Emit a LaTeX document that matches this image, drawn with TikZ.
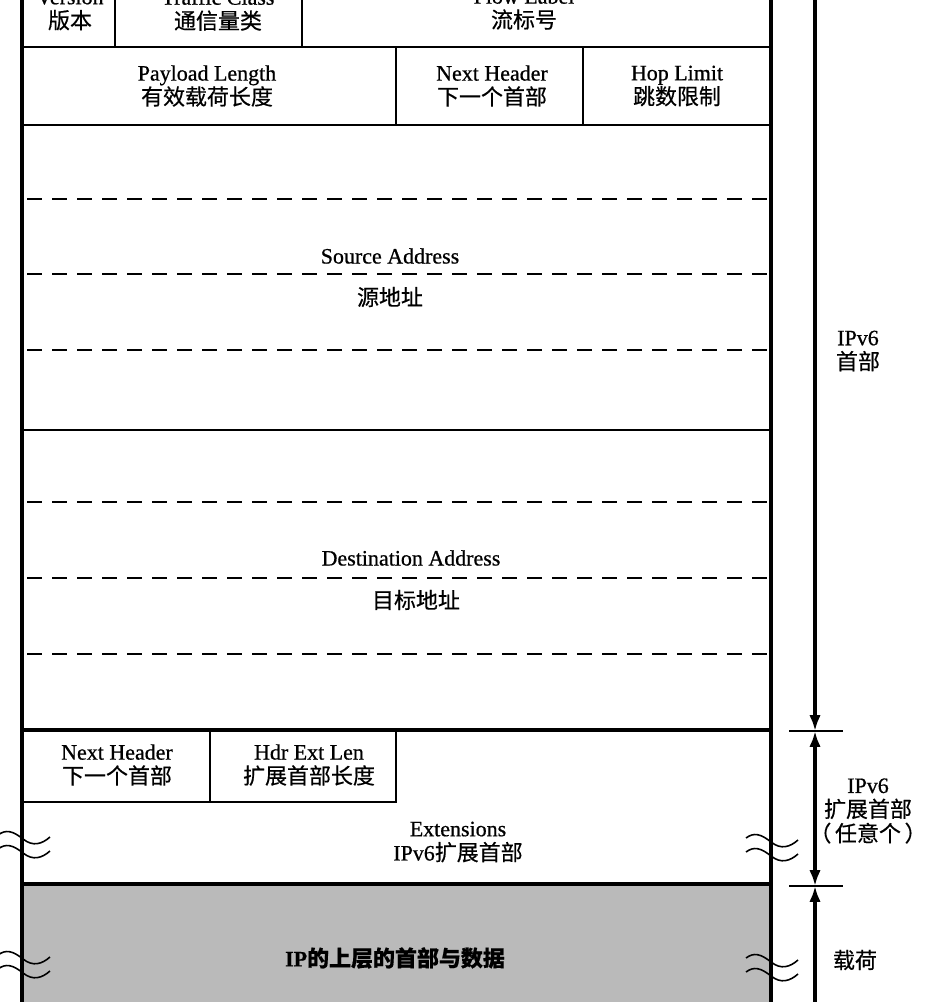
\documentclass[tikz,border=0pt]{standalone}
\usepackage{fontspec}
\setmainfont{Liberation Serif}[FakeBold=0.7]
\newfontfamily\cjk{Noto Sans CJK SC}[FakeBold=0.5]
\usetikzlibrary{arrows.meta}

\newcommand\fs{\fontsize{12.5}{13.8}\selectfont}

\begin{document}
\begin{tikzpicture}[
    x=0.2mm, y=-0.2mm,
    >={Latex[length=9pt,width=6.5pt]},
    every node/.style={font=\fs, align=center, inner sep=1pt},
    frame/.style={line width=2.2pt},
    sep/.style={line width=1.1pt},
    thicksep/.style={line width=2.2pt},
    dashsep/.style={line width=1pt, dash pattern=on 3mm off 2mm},
    tick/.style={line width=1pt},
    dim/.style={line width=2pt},
    brk/.pic={\draw[line width=0.9pt] (0,0) .. controls (8,-6) and (15,-4) .. (25,4)
        .. controls (35,12) and (44,9) .. (52,2);}
]
\useasboundingbox (0,0) rectangle (929,1002);
\clip (0,0) rectangle (929,1002);

% Nutzlast (grau)
\fill[black!27] (22,884) rectangle (771,1040);

% Rahmen
\draw[frame] (22,-40) -- (22,1040);
\draw[frame] (771,-40) -- (771,1040);

% Zeile 1
\draw[sep] (22,-31) -- (771,-31);
\draw[sep] (115,-31) -- (115,47);
\draw[sep] (302,-31) -- (302,47);
\draw[sep] (22,47) -- (771,47);

% Zeile 2
\draw[sep] (396,47) -- (396,125);
\draw[sep] (583,47) -- (583,125);
\draw[sep] (22,125) -- (771,125);

% Adressen
\foreach \y in {199,274,350,502,578,654}
    \draw[dashsep] (27,\y) -- (768,\y);
\draw[sep] (22,430) -- (771,430);
\draw[thicksep] (22,730) -- (771,730);

% Erweiterungskopf
\draw[sep] (210,730) -- (210,802);
\draw[sep] (22,802) -- (396,802) -- (396,730);
\draw[thicksep] (22,884) -- (771,884);

% Felder
\node (ver) at (70,10) {Version\\{\cjk 版本}};
\node (tc) at (218,10) {Traffic Class\\{\cjk 通信量类}};
\node (fl) at (524,9) {Flow Label\\{\cjk 流标号}};
\node (plen) at (207,86) {Payload Length\\{\cjk 有效载荷长度}};
\node (nh) at (492,86) {Next Header\\{\cjk 下一个首部}};
\node (hl) at (677,86) {Hop Limit\\{\cjk 跳数限制}};
\node (src) at (390,256) {Source Address};
\node (srccn) at (390,297) {\cjk 源地址};
\node (dst) at (411,558) {Destination Address};
\node (dstcn) at (416,600) {\cjk 目标地址};
\node (enh) at (117,765) {Next Header\\{\cjk 下一个首部}};
\node (hel) at (309,765) {Hdr Ext Len\\{\cjk 扩展首部长度}};
\node (ext) at (458,842) {Extensions\\IPv6{\cjk 扩展首部}};
\node (pay) at (395,958) {\bfseries IP{\cjk 的上层的首部与数据}};

% Bruchmarken
\foreach \y in {835,849,955,969}
    \pic at (-2,\y) {brk};
\foreach \y in {838,852,958,972}
    \pic at (746,\y) {brk};

% Bemassung rechts
\coordinate (top) at (815,-40);
\coordinate (t1) at (815,731);
\coordinate (t2) at (815,886);
\coordinate (bot) at (815,1040);
\draw[dim,->] (top) -- (t1);
\draw[dim,<->] (t1) -- (t2);
\draw[dim,->] (bot) -- (t2);
\draw[tick] (789,731) -- (843,731);
\draw[tick] (789,886) -- (843,886);

\node (hdr) at (858,351) {IPv6\\{\cjk 首部}};
\node (exth) at (868,811) {IPv6\\{\cjk 扩展首部}\\{\cjk （\,任意个\,）}};
\node (load) at (855,960) {\cjk 载荷};

\end{tikzpicture}
\end{document}
